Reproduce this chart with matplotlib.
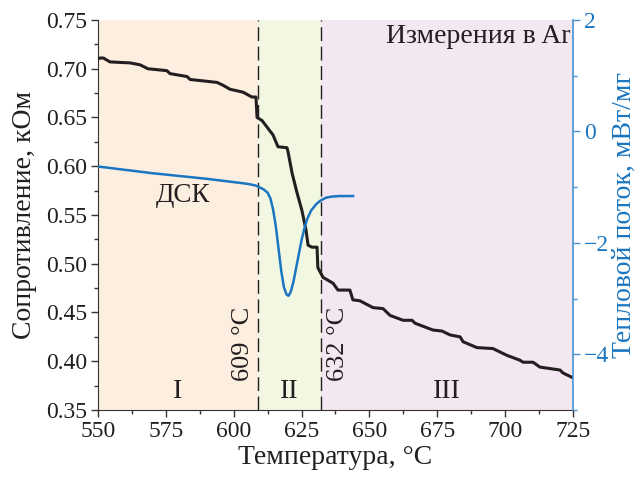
import matplotlib
matplotlib.use("Agg")
import matplotlib.pyplot as plt
from matplotlib.ticker import MultipleLocator, FormatStrFormatter

plt.rcParams['font.family'] = ['Liberation Serif', 'DejaVu Serif']
plt.rcParams['font.size'] = 17

# Resistance (kOhm) vs temperature
res_T = [550, 550.7, 552, 554.4, 561.8, 565.5, 568.4, 575.4, 576.5, 582.8, 583.9, 593.8,
         596.1, 598.6, 603.4, 606.7, 608.2, 608.6, 610.4, 614.5, 616.3, 619.6, 620.0,
         621.5, 623.3, 625.1, 626.6, 627.4, 628.8, 630.7, 631.0, 632.9, 636.6, 638.4,
         640.2, 642.8, 643.9, 646.5, 651.3, 655.0, 657.6, 662.4, 665.7, 666.8, 673.4,
         676.7, 679.7, 683.4, 684.5, 689.6, 695.5, 700.7, 705.5, 706.6, 710.3, 712.8,
         720.2, 721.3, 725]
res_R = [0.710, 0.711, 0.711, 0.707, 0.706, 0.704, 0.700, 0.698, 0.695, 0.692, 0.689, 0.686,
         0.683, 0.679, 0.676, 0.671, 0.671, 0.650, 0.647, 0.632, 0.620, 0.619, 0.615,
         0.593, 0.573, 0.555, 0.535, 0.519, 0.517, 0.517, 0.496, 0.486, 0.480, 0.473,
         0.473, 0.473, 0.463, 0.462, 0.455, 0.454, 0.447, 0.442, 0.442, 0.439, 0.432,
         0.431, 0.427, 0.425, 0.420, 0.414, 0.413, 0.406, 0.401, 0.399, 0.399, 0.394,
         0.391, 0.388, 0.383]

# DSC heat flow (mW/mg)
dsc_T = [550, 560, 570, 580, 590, 600, 605, 608, 609, 611, 612.5, 613.5, 614.5, 615.5,
         616.5, 617.5, 618.5, 619.5, 620.2, 621, 622, 623, 624, 625, 626, 627, 628.5,
         630.5, 632, 634, 636, 639, 644]
dsc_Q = [-0.63, -0.69, -0.75, -0.80, -0.85, -0.91, -0.94, -0.97, -0.99, -1.04, -1.10,
         -1.20, -1.40, -1.70, -2.10, -2.50, -2.80, -2.93, -2.95, -2.88, -2.70, -2.45,
         -2.20, -1.95, -1.75, -1.58, -1.42, -1.30, -1.24, -1.19, -1.17, -1.16, -1.16]

transitions = [609, 632]
regions = [(550, 609, '#fdefdf', 'I'), (609, 632, '#f2f7e2', 'II'), (632, 725, '#f3e7f2', 'III')]
xticks = [550, 575, 600, 625, 650, 675, 700, 725]

black = '#231f20'
blue = '#1a76c0'
blue_axis = '#4a92d2'

fig = plt.figure(figsize=(6.41, 4.84), dpi=100)
ax = fig.add_axes([0.1529, 0.1529, 0.741, 0.8058])
ax2 = ax.twinx()

for x0, x1, c, lab in regions:
    ax.axvspan(x0, x1, color=c, lw=0, zorder=0)
    ax.text((x0 + x1) / 2, 0.3685, lab, ha='center', va='center', fontsize=20, color=black)

for t in transitions:
    ax.axvline(t, color=black, lw=1.0, ls=(0, (10, 4)), zorder=1)

ax.plot(res_T, res_R, color=black, lw=2.2, zorder=3)
ax2.plot(dsc_T, dsc_Q, color=blue, lw=1.8, zorder=3)

ax.set_xlim(550, 725)
ax.set_ylim(0.35, 0.75)
ax2.set_ylim(-5, 2)

ax.set_xticks(xticks)
ax.xaxis.set_minor_locator(MultipleLocator(12.5))
ax.yaxis.set_major_locator(MultipleLocator(0.05))
ax.yaxis.set_minor_locator(MultipleLocator(0.025))
ax.yaxis.set_major_formatter(FormatStrFormatter('%.2f'))
ax2.yaxis.set_major_locator(MultipleLocator(2))
ax2.yaxis.set_minor_locator(MultipleLocator(1))

for a in (ax, ax2):
    a.spines['top'].set_visible(False)
ax.spines['right'].set_visible(False)
ax.spines['left'].set_color('#333333')
ax.spines['bottom'].set_color('#333333')
ax2.spines['left'].set_visible(False)
ax2.spines['bottom'].set_visible(False)
ax2.spines['right'].set_color(blue_axis)
ax2.spines['right'].set_linewidth(1.2)

ax.tick_params(which='major', direction='out', length=5, width=1, labelsize=17,
               colors='#333333', labelcolor=black, pad=3)
ax.tick_params(which='minor', direction='out', length=3, width=1, colors='#333333')
ax2.tick_params(which='major', direction='out', length=5, width=1, labelsize=17,
                colors=blue_axis, labelcolor=blue, pad=3)
ax2.tick_params(which='minor', direction='out', length=3, width=1, colors=blue_axis)

ax.set_xlabel('Температура, °C', fontsize=20, color=black, labelpad=2)
ax.set_ylabel('Сопротивление, кОм', fontsize=20, color=black, labelpad=6)
ax2.set_ylabel('Тепловой поток, мВт/мг', fontsize=20, color=blue, labelpad=2)

ax.text(581.3, 0.5695, 'ДСК', ha='center', va='center', fontsize=19.5, color=black, zorder=4)
ax.text(603.4, 0.418, '609 °C', rotation=90, ha='center', va='center', fontsize=19, color=black, zorder=4)
ax.text(638.4, 0.418, '632 °C', rotation=90, ha='center', va='center', fontsize=19, color=black, zorder=4)
ax.text(723.9, 0.7326, 'Измерения в Ar', ha='right', va='center', fontsize=20, color=black, zorder=4)

ax.set_zorder(ax2.get_zorder() - 1)
ax.patch.set_visible(False)
ax2.patch.set_visible(False)

fig.savefig('out.png', dpi=100)
